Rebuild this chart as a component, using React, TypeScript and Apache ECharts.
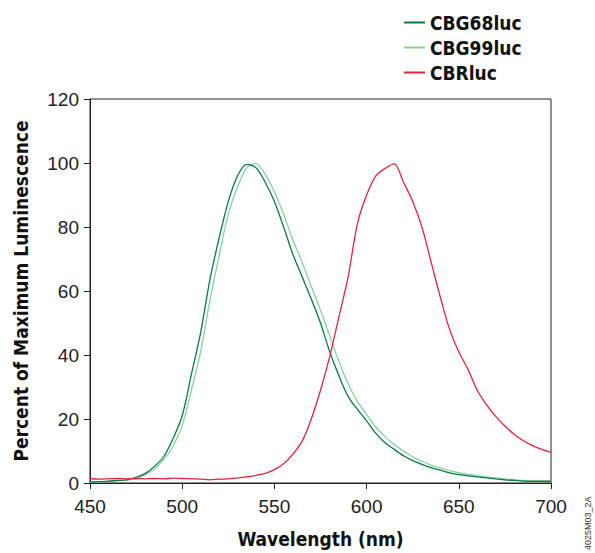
import React, { useEffect, useRef } from "react";
import * as echarts from "echarts";

const wavelengths = [
  450, 455, 460, 465, 470, 475, 480, 485, 490, 495, 500, 505, 510, 515, 520, 525, 530, 535, 540, 545,
  550, 555, 560, 565, 570, 575, 580, 585, 590, 595, 600, 605, 610, 615, 620, 625, 630, 635, 640, 645,
  650, 655, 660, 665, 670, 675, 680, 685, 690, 695, 700,
];

const cbg68luc = [
  0.3, 0.4, 0.6, 0.8, 1.0, 1.8, 3.0, 5.2, 8.2, 13.8, 21, 34, 47, 63.5, 76.5, 88, 96, 99.6, 98.5, 94,
  88, 80, 71.5, 64.5, 57.5, 50, 41, 33.5, 27, 23, 19.4, 15.5, 12.6, 10.5, 8.5, 7, 5.8, 4.8, 4, 3.2,
  2.6, 2.2, 1.9, 1.6, 1.3, 1.0, 0.8, 0.6, 0.5, 0.5, 0.5,
];

const cbg99luc = [
  0.3, 0.3, 0.5, 0.7, 0.9, 1.4, 2.6, 4.4, 7.2, 11.5, 18, 29, 41, 57, 71, 84, 92.5, 98.5, 99.8, 96.5,
  91, 84, 76, 69, 61.5, 54, 46, 38, 31, 25.5, 21.5, 17.5, 14.5, 12, 10, 8.2, 6.8, 5.6, 4.7, 3.9,
  3.2, 2.7, 2.3, 1.9, 1.6, 1.3, 1.0, 0.8, 0.7, 0.7, 0.7,
];

const cbrluc = [
  1.4, 1.2, 1.3, 1.4, 1.3, 1.4, 1.3, 1.4, 1.3, 1.5, 1.4, 1.3, 1.2, 1.0, 1.2, 1.3, 1.6, 1.9, 2.4, 3.0,
  4.2, 6.0, 9.0, 13, 20, 29, 39.5, 52, 64.5, 81, 90, 96, 98.3, 99.7, 94, 88, 80, 69, 58, 48,
  41, 35.5, 29, 24.5, 20.8, 17.8, 15.2, 13.2, 11.7, 10.5, 9.6,
];

const seriesNames = ["CBG68luc", "CBG99luc", "CBRluc"];
const xTicks = { min: 450, max: 700, interval: 50 };
const yTicks = { min: 0, max: 120, interval: 20 };
const figureId = "4025M03_2A";

const TITLE_FONT = "'DejaVu Sans Condensed', 'Liberation Sans', Arial, sans-serif";
const TICK_FONT = "'Liberation Sans', Arial, Helvetica, sans-serif";

export default function App() {
  const ref = useRef<HTMLDivElement>(null);

  useEffect(() => {
    if (!ref.current) return;
    const chart = echarts.init(ref.current, undefined, { renderer: "svg" });
    const pairs = (ys: number[]) => wavelengths.map((w, i) => [w, ys[i]]);
    const lineSeries = (name: string, ys: number[], color: string, z: number) => ({
      name,
      type: "line",
      data: pairs(ys),
      showSymbol: false,
      smooth: 0.3,
      z,
      lineStyle: { color, width: 1.3 },
      itemStyle: { color },
    });
    chart.setOption({
      animation: false,
      backgroundColor: "#ffffff",
      grid: {
        left: 90,
        right: 44,
        top: 99,
        bottom: 68,
        show: true,
        borderColor: "#222",
        borderWidth: 1,
        backgroundColor: "transparent",
      },
      legend: {
        orient: "vertical",
        left: 399,
        top: 5,
        data: seriesNames,
        icon: "rect",
        itemWidth: 21,
        itemHeight: 2,
        itemGap: 0,
        textStyle: {
          fontFamily: TITLE_FONT,
          fontWeight: "bold",
          fontSize: 19,
          color: "#111",
          lineHeight: 25,
        },
      },
      xAxis: {
        type: "value",
        min: xTicks.min,
        max: xTicks.max,
        interval: xTicks.interval,
        name: "Wavelength (nm)",
        nameLocation: "middle",
        nameGap: 46,
        nameTextStyle: {
          fontFamily: TITLE_FONT,
          fontWeight: "bold",
          fontSize: 19,
          color: "#111",
        },
        axisLine: { show: true, lineStyle: { color: "#222", width: 1 } },
        axisTick: { show: true, length: 6, lineStyle: { color: "#222" } },
        axisLabel: { fontFamily: TICK_FONT, fontSize: 19, color: "#222", margin: 14 },
        splitLine: { show: false },
      },
      yAxis: {
        type: "value",
        min: yTicks.min,
        max: yTicks.max,
        interval: yTicks.interval,
        name: "Percent of Maximum Luminescence",
        nameLocation: "middle",
        nameGap: 60,
        nameTextStyle: {
          fontFamily: TITLE_FONT,
          fontWeight: "bold",
          fontSize: 19,
          color: "#111",
        },
        axisLine: { show: true, lineStyle: { color: "#222", width: 1 } },
        axisTick: { show: true, length: 6, lineStyle: { color: "#222" } },
        axisLabel: { fontFamily: TICK_FONT, fontSize: 19, color: "#222", margin: 11 },
        splitLine: { show: false },
      },
      graphic: [
        {
          type: "text",
          x: 588,
          y: 550,
          rotation: Math.PI / 2,
          style: {
            text: figureId,
            fontFamily: TICK_FONT,
            fontSize: 9,
            fill: "#333",
            align: "left",
            verticalAlign: "middle",
          },
        },
      ],
      series: [
        lineSeries(seriesNames[1], cbg99luc, "#86d19c", 2),
        lineSeries(seriesNames[0], cbg68luc, "#0b7a43", 3),
        lineSeries(seriesNames[2], cbrluc, "#e3243b", 4),
      ],
    });
    return () => chart.dispose();
  }, []);

  return (
    <div
      ref={ref}
      style={{ position: "fixed", left: 0, top: 0, width: 595, height: 553 }}
    />
  );
}
